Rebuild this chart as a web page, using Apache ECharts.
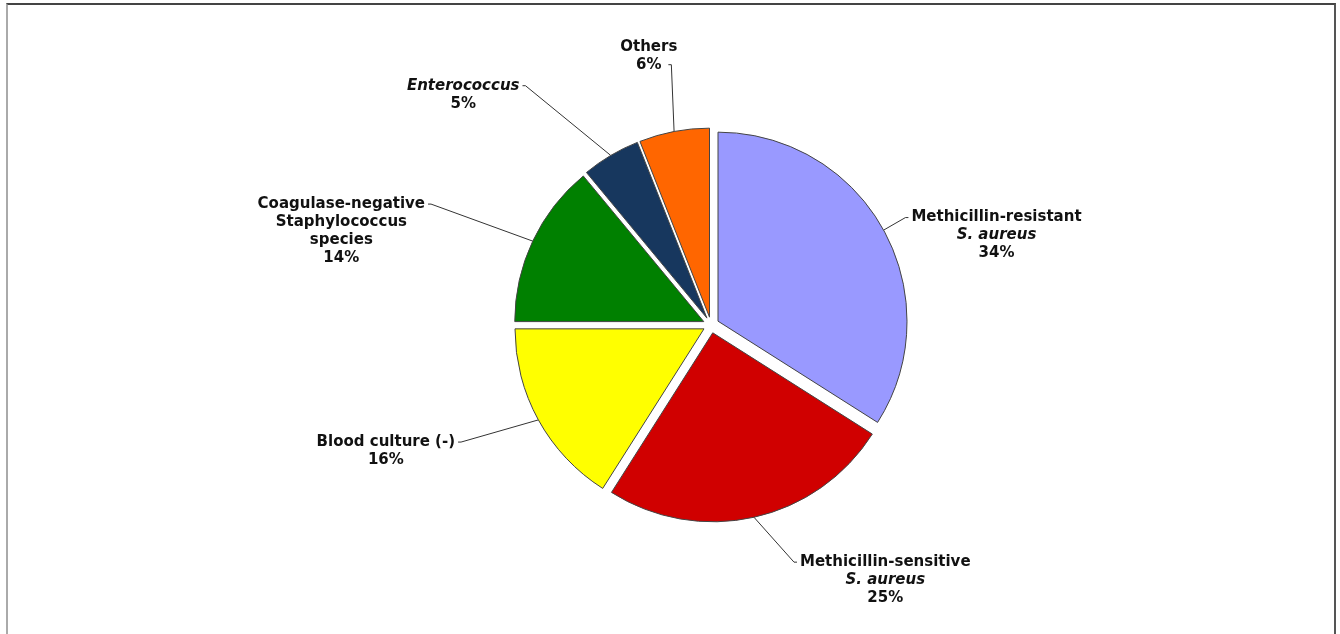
<!DOCTYPE html>
<html style="height: 100%">
<head>
  <meta charset="utf-8">
</head>
<body style="height: 100%; margin: 0; background: #fff">
  <div id="frame" style="position: absolute; left: 6px; top: 3px; width: 1326px; height: 631px; border-top: 2px solid #444; border-left: 2px solid #aaa; border-right: 2px solid #555"></div>
  <div id="container" style="position: absolute; left: 0; top: 0; width: 1340px; height: 634px"></div>
  <script type="text/javascript" src="https://cdn.jsdelivr.net/npm/echarts@6/dist/echarts.min.js"></script>
  <script type="text/javascript">
    // slices, clockwise from 12 o'clock
    var categories = [
      'Methicillin-resistant\nS. aureus',
      'Methicillin-sensitive\nS. aureus',
      'Blood culture (-)',
      'Coagulase-negative\nStaphylococcus\nspecies',
      'Enterococcus',
      'Others'
    ];
    var values = [34, 25, 16, 14, 5, 6];
    var italicTerms = ['S. aureus', 'Enterococcus'];
    var colors = ['#9999ff', '#d00000', '#ffff00', '#008000', '#17375e', '#ff6600'];

    // leader line lengths and where the line meets the text block
    var lineLen = [26, 46, 46, 87, 81, 68];
    var lineLen2 = [2, 33, 40, 26, 47, -19];
    var lineEndInset = [0, 0, 0, 0, 0, 12];
    var labelPad = [[36, 0, 0, 0], [36, 0, 0, 0], [18, 0, 0, 0], [54, 0, 0, 0], [18, 0, 0, 0], [0, 0, 18, 0]];

    var dom = document.getElementById('container');
    var myChart = echarts.init(dom);

    function fmt(params) {
      var lines = params.name.split('\n').map(function (l) {
        return (italicTerms.indexOf(l) >= 0 ? '{i|' : '{b|') + l + '}';
      });
      lines.push('{b|' + params.value + '%}');
      return lines.join('\n');
    }

    var data = categories.map(function (c, i) {
      return {
        name: c,
        value: values[i],
        selected: true,
        itemStyle: { color: colors[i] },
        label: { padding: labelPad[i] },
        labelLine: { length: lineLen[i], length2: lineLen2[i] }
      };
    });

    var option = {
      animation: false,
      series: [
        {
          type: 'pie',
          center: [711, 325],
          radius: 189,
          startAngle: 90,
          clockwise: true,
          selectedMode: 'multiple',
          selectedOffset: 8,
          avoidLabelOverlap: false,
          emphasis: { disabled: true },
          itemStyle: { borderColor: '#444', borderWidth: 1 },
          label: {
            show: true,
            position: 'outside',
            formatter: fmt,
            distanceToLabelLine: 3,
            rich: {
              b: { fontFamily: 'DejaVu Sans', fontWeight: 'bold', fontSize: 15, lineHeight: 18, color: '#111', align: 'center' },
              i: { fontFamily: 'DejaVu Sans', fontWeight: 'bold', fontStyle: 'italic', fontSize: 15, lineHeight: 18, color: '#111', align: 'center' }
            }
          },
          labelLine: {
            show: true,
            smooth: false,
            minTurnAngle: 0,
            lineStyle: { color: '#333', width: 1 }
          },
          // straight leader from the slice to the text, with a short tick
          labelLayout: function (params) {
            var pts = params.labelLinePoints;
            if (!pts || pts.length < 2) return {};
            var p0 = pts[0];
            var p2 = pts[pts.length - 1];
            var dir = params.align === 'right' ? -1 : 1;
            var end = [p2[0] + dir * lineEndInset[params.dataIndex], p2[1]];
            return { labelLinePoints: [p0, [end[0] - dir * 3, end[1]], end] };
          },
          data: data
        }
      ]
    };
    myChart.setOption(option);
  </script>
</body>
</html>
